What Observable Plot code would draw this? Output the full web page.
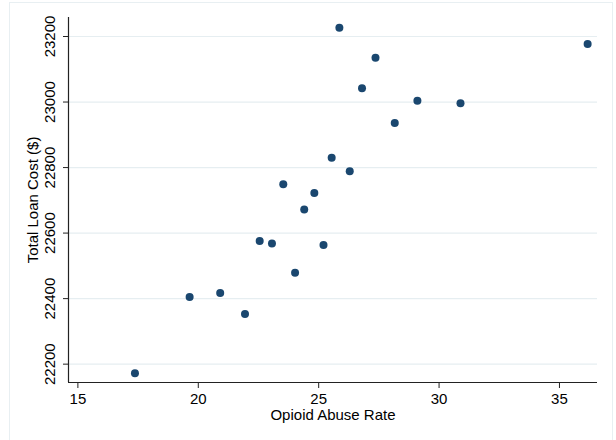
<!DOCTYPE html>
<html>
<head>
<meta charset="utf-8">
<script src="https://cdn.jsdelivr.net/npm/d3@7"></script>
<script src="https://cdn.jsdelivr.net/npm/@observablehq/plot@0.6"></script>
<style>
  html, body { margin: 0; padding: 0; background: #fff; overflow: hidden; }
  #wrap { position: relative; width: 616px; height: 440px; }
  #border { position: absolute; left: 9px; top: 2px; width: 602px; height: 460px;
            border: 1px solid #e8eff2; pointer-events: none; }
</style>
</head>
<body>
<div id="wrap"><div id="border"></div></div>
<script>
const opioidRate = [17.37, 19.64, 20.91, 21.94, 22.55, 23.06, 24.02, 25.20, 25.86, 27.36,
                    26.80, 29.10, 30.89, 36.17, 28.16, 25.54, 26.29, 24.82, 24.40, 23.53];
const loanCost   = [22172, 22405, 22417, 22353, 22576, 22568, 22479, 22564, 23227, 23135,
                    23042, 23004, 22996, 23177, 22936, 22830, 22789, 22722, 22672, 22749];
const xTicks = [15, 20, 25, 30, 35];
const yTicks = [22200, 22400, 22600, 22800, 23000, 23200];
const xTitle = "Opioid Abuse Rate";
const yTitle = "Total Loan Cost ($)";

const data = opioidRate.map((x, i) => ({x, y: loanCost[i]}));
const font = "Liberation Sans, Arial, sans-serif";

const chart = Plot.plot({
  width: 616,
  height: 440,
  marginLeft: 68,
  marginRight: 19,
  marginTop: 17,
  marginBottom: 58,
  style: {fontFamily: font, fontSize: "15px", color: "#000", background: "transparent"},
  x: {domain: [14.61, 36.58]},
  y: {domain: [22144, 23258]},
  marks: [
    Plot.gridY(yTicks, {stroke: "#e6eef1", strokeOpacity: 1, strokeWidth: 1.2}),
    Plot.axisX({ticks: xTicks, tickSize: 6, tickPadding: 5, fontSize: 15, stroke: "#222", label: null}),
    Plot.axisY({ticks: yTicks, tickSize: 5, tickFormat: () => "", stroke: "#222", label: null}),
    Plot.text(yTicks, {y: d => d, text: d => String(d), frameAnchor: "left", dx: -18,
                       rotate: -90, textAnchor: "middle", lineAnchor: "middle", fontSize: 15, fill: "#000"}),
    Plot.ruleX([14.61], {stroke: "#222", strokeWidth: 1.2}),
    Plot.ruleY([22144], {stroke: "#222", strokeWidth: 1.2}),
    Plot.text([xTitle], {frameAnchor: "bottom", dy: 32.5, textAnchor: "middle", lineAnchor: "middle", fontSize: 15, fill: "#000"}),
    Plot.text([yTitle], {frameAnchor: "left", dx: -35, rotate: -90, textAnchor: "middle", lineAnchor: "middle", fontSize: 15, fill: "#000"}),
    Plot.dot(data, {x: "x", y: "y", r: 4, fill: "#1a476f", stroke: "none"})
  ]
});
document.getElementById("wrap").insertBefore(chart, document.getElementById("border"));
</script>
</body>
</html>
